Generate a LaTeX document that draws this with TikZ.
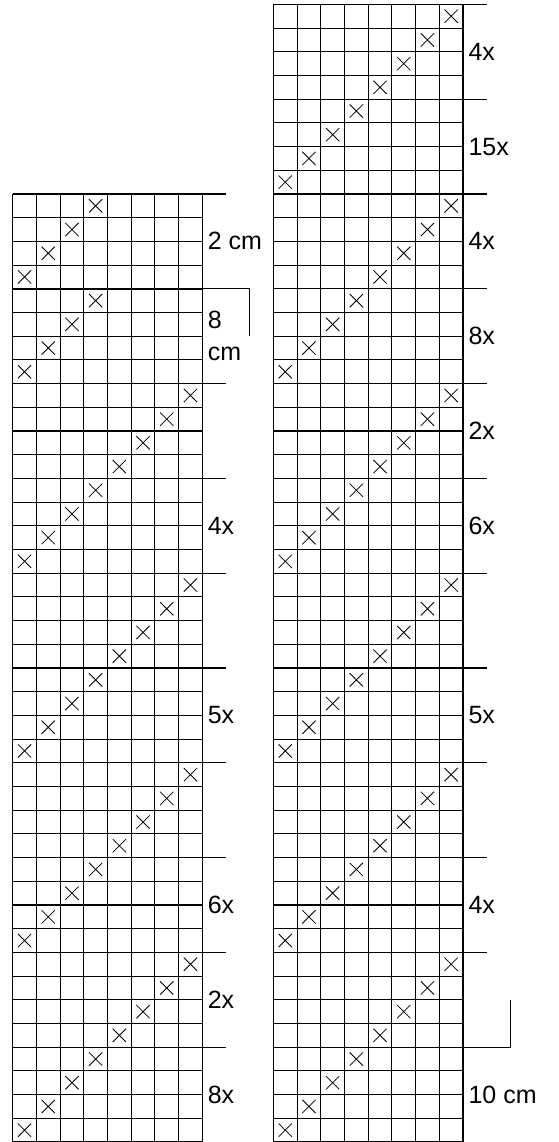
\documentclass[tikz,border=0pt]{standalone}
\usepackage{fontspec}
\setmainfont{Liberation Sans}
\usetikzlibrary{positioning}

% one cross in the cell whose lower left corner is (#1,#2)
\newcommand{\cellcross}[2]{%
    \draw[crossline] ({#1+0.22},{#2+0.22}) -- ({#1+0.78},{#2+0.78})
                     ({#1+0.22},{#2+0.78}) -- ({#1+0.78},{#2+0.22});}

\begin{document}
\begin{tikzpicture}[
    x=0.5cm, y=0.5cm,
    gridline/.style={line width=0.7pt, step=0.5cm},
    crossline/.style={line width=0.5pt},
    sidetick/.style={line width=0.7pt},
    seamline/.style={line width=1.3pt},
    sidelabel/.style={anchor=west, inner sep=0pt, align=left,
        font=\fontsize{15}{19}\selectfont}
]
    \useasboundingbox (-0.536,0) rectangle (23.05,48.186);

    % Left chart: 8 stitches, 40 rows
    \draw[gridline] (0,0) grid (8,40);
    \foreach \j in {0,...,31} {
        \pgfmathtruncatemacro{\c}{mod(\j,8)}
        \cellcross{\c}{\j}
    }
    \foreach \j in {32,...,39} {
        \pgfmathtruncatemacro{\c}{mod(\j,4)}
        \cellcross{\c}{\j}
    }
    \draw[seamline] (0,36) -- (8,36);

    % Markers beside the left chart
    \foreach \y in {4,8,...,32,40}
        \draw[sidetick] (8,\y) -- (9,\y);
    \draw[sidetick] (8,36) -- (10,36) -- (10,34);

    \node[sidelabel] (leftcmA) at (8.22,38) {2 cm};
    \node[sidelabel] (leftcmB) at (8.22,34) {8\\cm};
    \node[sidelabel] (leftrepA) at (8.22,26) {4x};
    \node[sidelabel] (leftrepB) at (8.22,18) {5x};
    \node[sidelabel] (leftrepC) at (8.22,10) {6x};
    \node[sidelabel] (leftrepD) at (8.22,6) {2x};
    \node[sidelabel] (leftrepE) at (8.22,2) {8x};

    % Right chart: 8 stitches, 48 rows
    \draw[gridline] (11,0) grid (19,48);
    \foreach \j in {0,...,47} {
        \pgfmathtruncatemacro{\c}{11+mod(\j,8)}
        \cellcross{\c}{\j}
    }

    % Markers beside the right chart
    \foreach \y in {8,12,...,48}
        \draw[sidetick] (19,\y) -- (20,\y);
    \draw[sidetick] (19,4) -- (21,4) -- (21,6);

    \node[sidelabel] (rightrepA) at (19.22,46) {4x};
    \node[sidelabel] (rightrepB) at (19.22,42) {15x};
    \node[sidelabel] (rightrepC) at (19.22,38) {4x};
    \node[sidelabel] (rightrepD) at (19.22,34) {8x};
    \node[sidelabel] (rightrepE) at (19.22,30) {2x};
    \node[sidelabel] (rightrepF) at (19.22,26) {6x};
    \node[sidelabel] (rightrepG) at (19.22,18) {5x};
    \node[sidelabel] (rightrepH) at (19.22,10) {4x};
    \node[sidelabel] (rightcm) at (19.22,2) {10 cm};
\end{tikzpicture}
\end{document}
